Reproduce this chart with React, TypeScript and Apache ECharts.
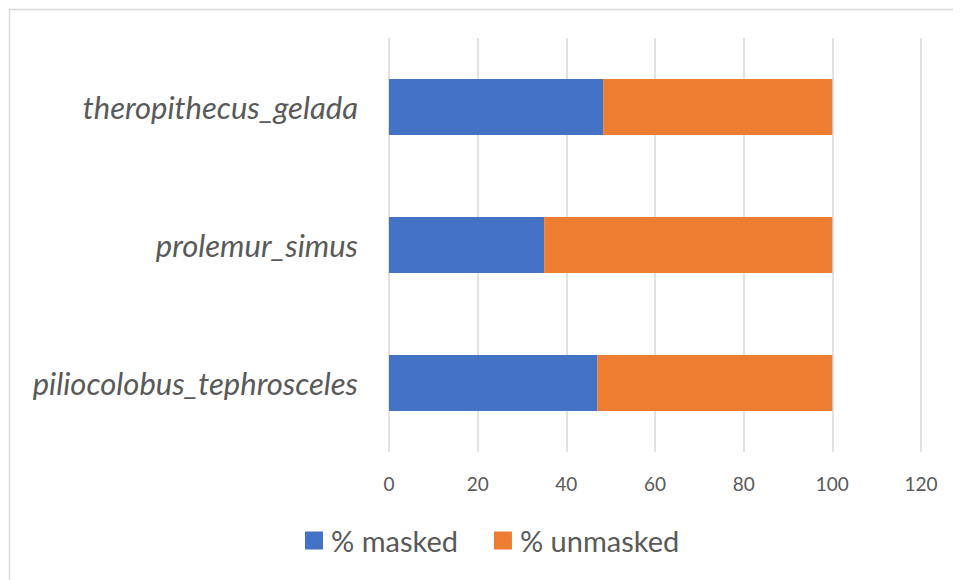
import React, { useEffect, useRef } from "react";
import * as echarts from "echarts";

const categories = ["piliocolobus_tephrosceles", "prolemur_simus", "theropithecus_gelada"];
const maskedValues = [47.0, 35.0, 48.3];
const unmaskedValues = [53.0, 65.0, 51.7];
const seriesNames = ["% masked", "% unmasked"];
const FONT = "Lato, 'Open Sans', sans-serif";

export default function App() {
  const ref = useRef<HTMLDivElement>(null);
  useEffect(() => {
    if (!ref.current) return;
    const chart = echarts.init(ref.current, undefined, { renderer: "svg" });
    chart.setOption({
      animation: false,
      backgroundColor: "#ffffff",
      graphic: [
        {
          type: "rect",
          shape: { x: 1.5, y: 1.5, width: 2000, height: 2000 },
          style: { fill: "none", stroke: "#D9D9D9", lineWidth: 1.5 },
          silent: true,
        },
      ],
      grid: { left: 381, right: 40, top: 30, bottom: 128 },
      legend: {
        left: 297,
        top: 518,
        padding: 0,
        itemWidth: 18,
        itemHeight: 18,
        itemGap: 36,
        icon: "rect",
        textStyle: { color: "#595959", fontSize: 29, fontFamily: FONT, padding: [0, 0, 0, 3] },
        data: seriesNames,
      },
      xAxis: {
        type: "value",
        min: 0,
        max: 120,
        interval: 20,
        axisLine: { show: false },
        axisTick: { show: false },
        splitLine: { lineStyle: { color: "#D9D9D9", width: 1.5 } },
        axisLabel: { color: "#595959", fontSize: 19, fontFamily: FONT, margin: 22 },
      },
      yAxis: {
        type: "category",
        data: categories,
        axisLine: { show: false },
        axisTick: { show: false },
        axisLabel: {
          color: "#595959",
          fontSize: 31,
          fontStyle: "italic",
          fontFamily: FONT,
          margin: 31,
        },
      },
      series: [
        {
          name: seriesNames[0],
          type: "bar",
          stack: "total",
          barWidth: 56,
          data: maskedValues,
          itemStyle: { color: "#4472C4" },
        },
        {
          name: seriesNames[1],
          type: "bar",
          stack: "total",
          barWidth: 56,
          data: unmaskedValues,
          itemStyle: { color: "#ED7D31" },
        },
      ],
    });
    return () => chart.dispose();
  }, []);
  return <div ref={ref} style={{ width: 953, height: 572 }} />;
}
